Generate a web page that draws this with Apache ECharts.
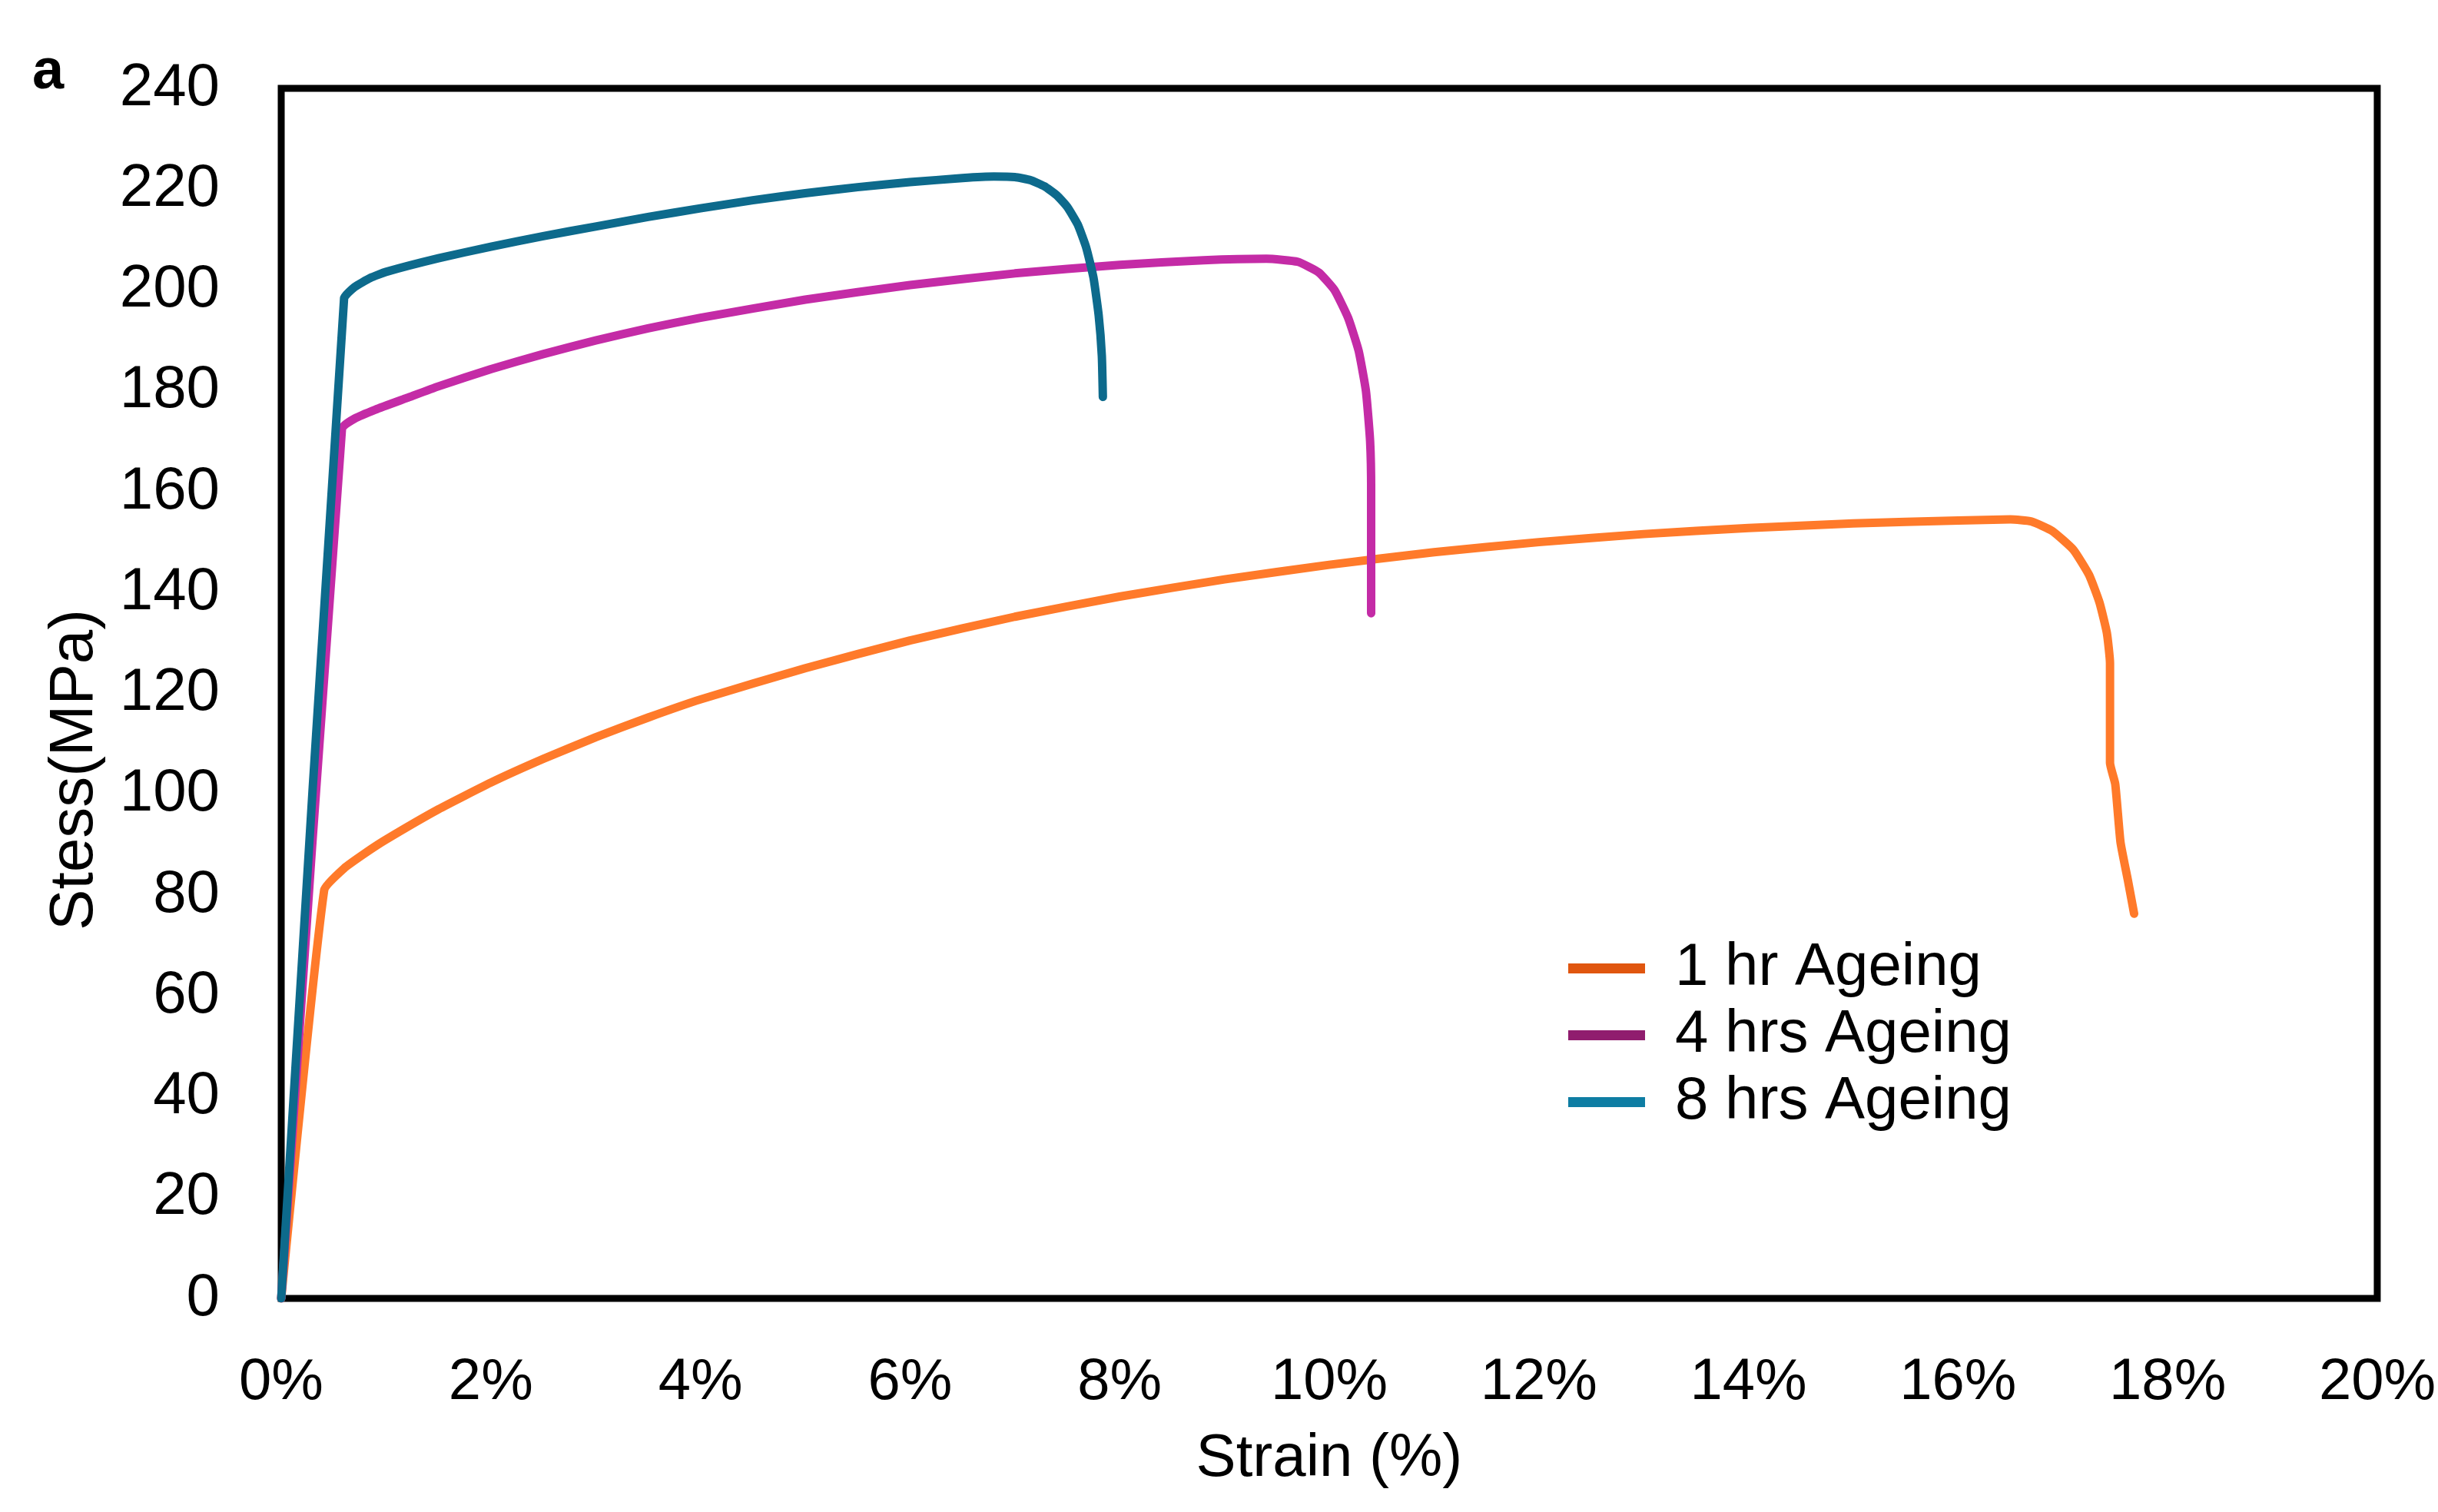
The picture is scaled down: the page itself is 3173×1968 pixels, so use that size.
<!DOCTYPE html>
<html>
<head>
<meta charset="utf-8">
<script src="https://cdn.jsdelivr.net/npm/echarts@6/dist/echarts.min.js"></script>
<style>
html,body{margin:0;padding:0;background:#fff;}
#chart{width:3173px;height:1968px;}
</style>
</head>
<body>
<div id="chart"></div>
<script>
const seriesNames = ['1 hr Ageing', '4 hrs Ageing', '8 hrs Ageing'];

const strain1hr = [0, 0.41, 0.6, 0.8, 1.0, 1.5, 2.0, 2.5, 3.0, 3.5, 4.0, 5, 6, 7, 8, 9, 10, 11, 12, 13, 14, 15, 16, 16.5, 16.7, 16.9, 17.1, 17.25, 17.35, 17.42, 17.45, 17.45, 17.5, 17.55, 17.62, 17.68];
const stress1hr = [0, 81, 85.3, 88.3, 91, 97, 102.3, 107, 111.3, 115.2, 118.8, 125, 130.5, 135.2, 139.2, 142.6, 145.5, 148, 150, 151.6, 152.8, 153.7, 154.3, 154.5, 154.1, 152.2, 148.5, 143.5, 138, 132, 126, 106.2, 102, 90.5, 83, 76.3];

const strain4hrs = [0, 0.58, 0.7, 0.9, 1.2, 1.5, 2, 2.5, 3, 3.5, 4, 5, 6, 7, 8, 8.8, 9.4, 9.7, 9.9, 10.05, 10.18, 10.28, 10.35, 10.39, 10.4, 10.4];
const stress4hrs = [0, 172.6, 174.5, 176.3, 178.6, 180.9, 184.3, 187.3, 190, 192.4, 194.5, 198.1, 201, 203.3, 205, 205.9, 206.2, 205.6, 203.5, 200, 194.5, 188, 180, 170, 160, 135.9];

const strain8hrs = [0, 0.6, 0.7, 0.85, 1, 1.5, 2, 2.5, 3, 3.5, 4, 4.5, 5, 5.5, 6, 6.5, 6.8, 7.0, 7.15, 7.28, 7.4, 7.5, 7.6, 7.68, 7.75, 7.8, 7.83, 7.84];
const stress8hrs = [0, 198.4, 200.6, 202.4, 203.6, 206.3, 208.6, 210.7, 212.6, 214.5, 216.2, 217.8, 219.2, 220.4, 221.4, 222.2, 222.5, 222.4, 221.8, 220.6, 218.8, 216.5, 213, 208.5, 202.5, 195, 187, 178.8];

const xTicks = [0, 2, 4, 6, 8, 10, 12, 14, 16, 18, 20];
const yTicks = [0, 20, 40, 60, 80, 100, 120, 140, 160, 180, 200, 220, 240];

const lineColors = ['#FF7A2A', '#C42BA6', '#0D6A8C'];
const legendColors = ['#E0560F', '#901D6E', '#0E7DA3'];

function zip(xs, ys) { return xs.map((x, i) => [x, ys[i]]); }

const FONT = '"Liberation Sans", Arial, sans-serif';
const chart = echarts.init(document.getElementById('chart'), null, {renderer: 'canvas'});

const allData = [zip(strain1hr, stress1hr), zip(strain4hrs, stress4hrs), zip(strain8hrs, stress8hrs)];

chart.setOption({
  animation: false,
  backgroundColor: '#ffffff',
  grid: {
    left: 366, right: 76, top: 115, bottom: 278,
    show: true, borderColor: '#000', borderWidth: 9, backgroundColor: 'transparent'
  },
  xAxis: {
    type: 'value',
    min: xTicks[0], max: xTicks[xTicks.length - 1], interval: xTicks[1] - xTicks[0],
    name: 'Strain (%)', nameLocation: 'middle', nameGap: 170,
    nameTextStyle: {fontSize: 78, color: '#000', fontFamily: FONT},
    axisLine: {show: false}, axisTick: {show: false}, splitLine: {show: false},
    axisLabel: {fontSize: 76, color: '#000', fontFamily: FONT, margin: 72, formatter: v => v + '%'}
  },
  yAxis: {
    type: 'value',
    min: yTicks[0], max: yTicks[yTicks.length - 1], interval: yTicks[1] - yTicks[0],
    axisLine: {show: false}, axisTick: {show: false}, splitLine: {show: false},
    axisLabel: {fontSize: 78, color: '#000', fontFamily: FONT, margin: 80}
  },
  legend: {
    orient: 'vertical', left: 2036, top: 1212,
    icon: 'rect', itemWidth: 100, itemHeight: 13, itemGap: 0,
    textStyle: {fontSize: 78, lineHeight: 87, color: '#000', fontFamily: FONT, padding: [0, 0, 0, 34]},
    data: seriesNames.map((n, i) => ({name: n, itemStyle: {color: legendColors[i]}}))
  },
  graphic: [{
    type: 'text', left: 42, top: 58,
    style: {text: 'a', fontSize: 74, fontWeight: 'bold', fill: '#000', fontFamily: FONT}
  }, {
    type: 'text', x: 98, y: 1002, rotation: Math.PI / 2,
    style: {text: 'Stess(MPa)', fontSize: 80, fill: '#000', fontFamily: FONT, align: 'center', verticalAlign: 'middle'}
  }],
  series: seriesNames.map((n, i) => ({
    name: n, type: 'line', data: allData[i],
    showSymbol: false, symbol: 'none', smooth: 0.15,
    lineStyle: {color: lineColors[i], width: 11, cap: 'round', join: 'round'},
    itemStyle: {color: lineColors[i]},
    z: 2 + i
  }))
});
</script>
</body>
</html>
